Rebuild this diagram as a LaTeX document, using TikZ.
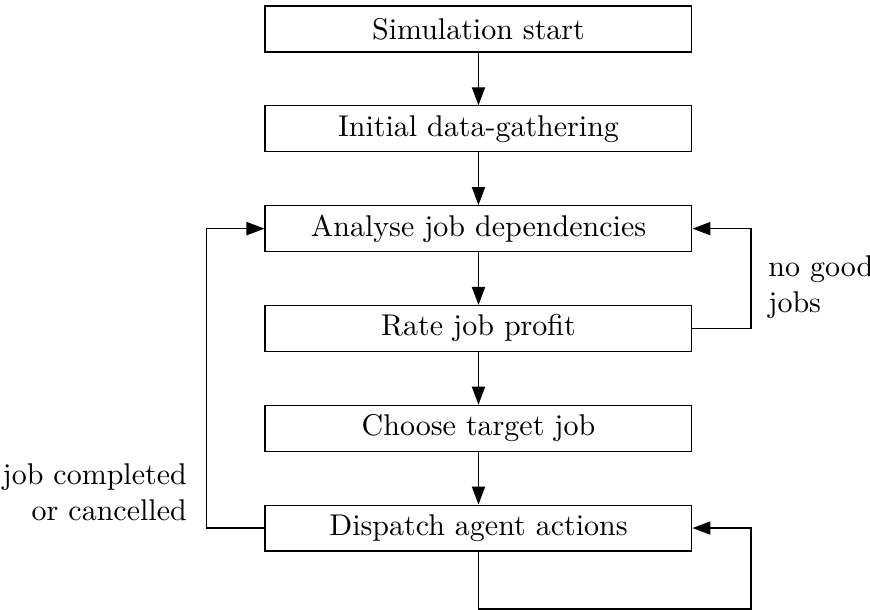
\documentclass[tikz,border=0pt]{standalone}
\usetikzlibrary{arrows.meta,positioning,calc}
\tikzset{>={Triangle[length=6pt,width=4.4pt]},stage/.style={draw,rectangle,minimum width=5cm,minimum height=15.3pt,inner sep=2pt},flow/.style={->},note/.style={inner sep=0pt}}
\begin{document}
\begin{tikzpicture}[node distance=17.57pt]
\node[stage] (start) {Simulation start};
\node[stage,below=of start] (gather) {Initial data-gathering};
\node[stage,below=of gather] (analyse) {Analyse job dependencies};
\node[stage,below=of analyse] (rate) {Rate job profit};
\node[stage,below=of rate] (choose) {Choose target job};
\node[stage,below=of choose] (dispatch) {Dispatch agent actions};
\useasboundingbox ([xshift=-159.5pt,yshift=9.67pt]start.center) rectangle ++(290pt,-203.33pt);
\draw[flow] (start)--(gather);\draw[flow] (gather)--(analyse);\draw[flow] (analyse)--(rate);
\draw[flow] (rate)--(choose);\draw[flow] (choose)--(dispatch);
% loops back
\draw[flow] (rate.east) -- ++(19.5pt,0) |- (analyse.east);
\draw[flow] (dispatch.west) -- ++(-19.3pt,0) |- (analyse.west);
\draw[flow] (dispatch.south) -- ++(0,-19.1pt) -| ([xshift=19.5pt]dispatch.east) -- (dispatch.east);
\node[note,align=left,anchor=west] (nogood) at ($(rate.east)+(25.1pt,13.8pt)$) {no good\\jobs};
\node[note,align=right,anchor=east] (done) at ($(dispatch.west)+(-25.7pt,12pt)$) {job completed\\or cancelled};
\end{tikzpicture}
\end{document}
